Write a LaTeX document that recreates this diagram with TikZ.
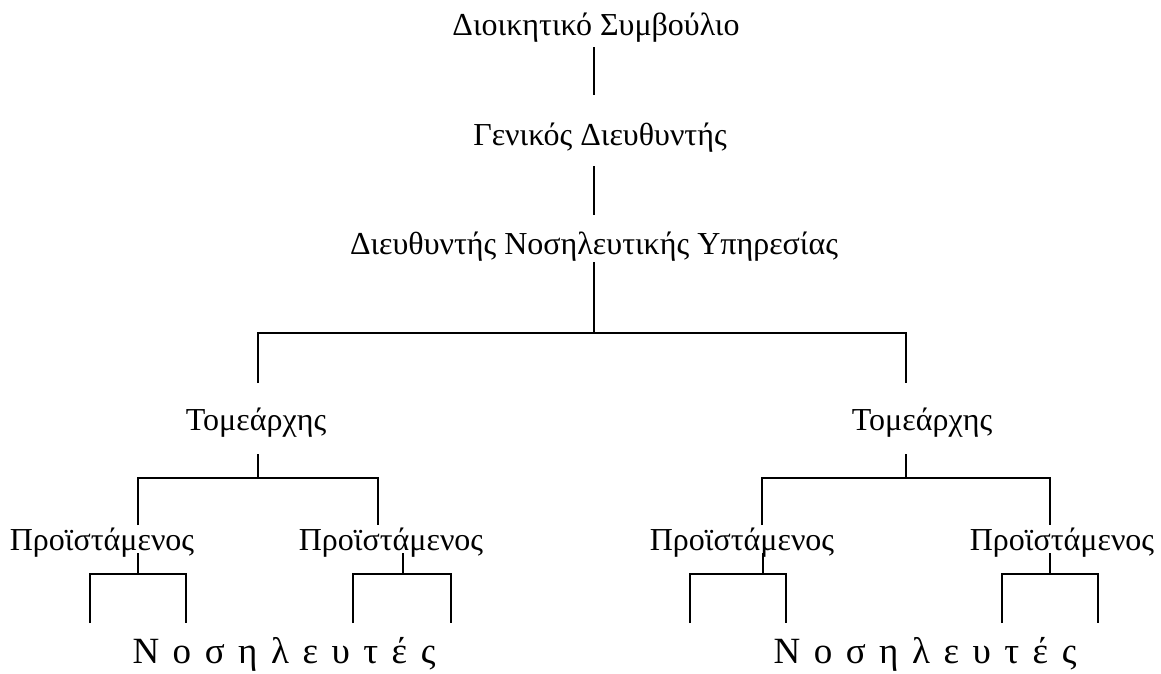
\documentclass[tikz,border=0pt]{standalone}
\usepackage{fontspec}
\setmainfont{Liberation Serif}
\newcommand\spreadtext[1]{{\spaceskip=13.5pt\relax #1}}
\begin{document}
\begin{tikzpicture}[x=1pt,y=-1pt,
  lbl/.style={anchor=base,inner sep=0pt,font=\fontsize{32}{38}\selectfont},
  big/.style={anchor=base,inner sep=0pt,font=\fontsize{37}{44}\selectfont},
  conn/.style={draw=black,line width=1.8pt}]
\useasboundingbox (0,0) rectangle (1161,673);
% nodes
\node[lbl] (top) at (596,35) {Διοικητικό Συμβούλιο};
\node[lbl] (gen) at (600,145) {Γενικός Διευθυντής};
\node[lbl] (dns) at (594,254) {Διευθυντής Νοσηλευτικής Υπηρεσίας};
\node[lbl] (tomL) at (256,430) {Τομεάρχης};
\node[lbl] (tomR) at (922,430) {Τομεάρχης};
\node[lbl] (p1) at (102,550) {Προϊστάμενος};
\node[lbl] (p2) at (391,550) {Προϊστάμενος};
\node[lbl] (p3) at (742,550) {Προϊστάμενος};
\node[lbl] (p4) at (1062,550) {Προϊστάμενος};
\node[big] (nL) at (284,663) {\spreadtext{Ν ο σ η λ ε υ τ έ ς}};
\node[big] (nR) at (925,663) {\spreadtext{Ν ο σ η λ ε υ τ έ ς}};
% coordinates
\coordinate (a1) at (594,47);  \coordinate (a2) at (594,95);
\coordinate (b1) at (594,166); \coordinate (b2) at (594,215);
\coordinate (c1) at (594,262); \coordinate (c2) at (594,333);
\coordinate (cL) at (258,333); \coordinate (cR) at (906,333);
\coordinate (cLd) at (258,383); \coordinate (cRd) at (906,383);
% left sector
\coordinate (dL1) at (258,454); \coordinate (dL2) at (258,478);
\coordinate (dLl) at (138,478); \coordinate (dLr) at (378,478);
\coordinate (dLld) at (138,525); \coordinate (dLrd) at (378,525);
% right sector
\coordinate (dR1) at (906,454); \coordinate (dR2) at (906,478);
\coordinate (dRl) at (762,478); \coordinate (dRr) at (1050,478);
\coordinate (dRld) at (762,525); \coordinate (dRrd) at (1050,525);
% draw
\draw[conn] (a1) -- (a2);
\draw[conn] (b1) -- (b2);
\draw[conn] (c1) -- (c2);
\draw[conn] (cLd) -- (cL) -- (cR) -- (cRd);
\draw[conn] (dL1) -- (dL2);
\draw[conn] (dLld) -- (dLl) -- (dLr) -- (dLrd);
\draw[conn] (dR1) -- (dR2);
\draw[conn] (dRld) -- (dRl) -- (dRr) -- (dRrd);
% supervisors' branches
\foreach \n/\x/\l/\r in {e1/138/90/186, e2/403/353/451, e3/763/690/786, e4/1050/1002/1098}{
  \coordinate (\n t) at (\x,553);
  \coordinate (\n m) at (\x,574);
  \coordinate (\n l) at (\l,574);
  \coordinate (\n r) at (\r,574);
  \coordinate (\n ld) at (\l,623);
  \coordinate (\n rd) at (\r,623);
  \draw[conn] (\n t) -- (\n m);
  \draw[conn] (\n ld) -- (\n l) -- (\n r) -- (\n rd);
}
\end{tikzpicture}
\end{document}
